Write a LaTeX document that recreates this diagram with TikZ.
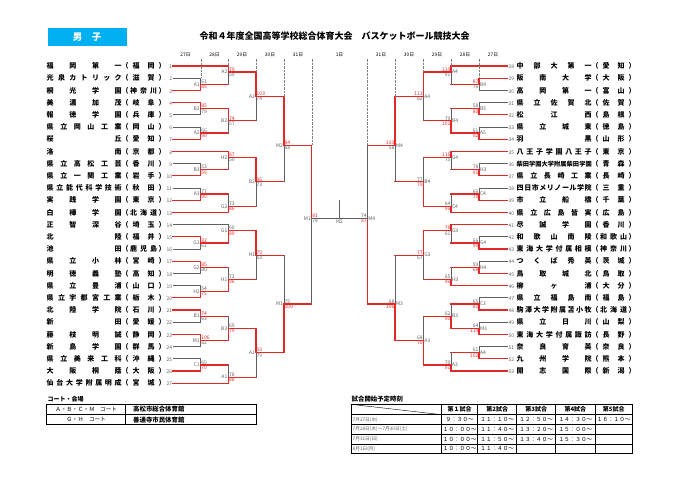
\documentclass[tikz,border=0pt]{standalone}
\usepackage{fontspec}
\newfontfamily\jp{Noto Sans CJK JP}

\definecolor{winred}{RGB}{226,40,40}
\definecolor{losegray}{RGB}{96,96,96}
\definecolor{boxblue}{RGB}{0,176,240}

% spread the characters of a name over its box
\def\spreadtxt#1{\spreadfirst#1\relax}
\def\spreadfirst#1{#1\spreadnext}
\def\spreadnext#1{\ifx\relax#1\else\hskip 0pt plus 1fil\relax#1\expandafter\spreadnext\fi}
\def\headchar#1#2\relax{#1}

\newcommand\nm[1]{\hbox to 75pt{\spreadtxt{#1}}}
\newcommand\pf[1]{（\hbox to 30pt{\hskip 0pt plus .5fil\relax\spreadtxt{#1}\hskip 0pt plus .5fil\relax}）}
\newcommand\nb[1]{\hbox to 7pt{\hfil\mdseries\fontsize{5}{5}\selectfont\color{losegray}#1\hskip.5pt}}
\newcommand\nbr[1]{\hbox to 9pt{\hskip1pt\mdseries\fontsize{5}{5}\selectfont\color{losegray}#1\hfil}}

% line into a game: teams by their result, winners always red
\newcommand\feed[3]{%
  \if t\headchar#1\relax
    \ifnum#3=1 \draw[win] (#1) -- (#1 -| #2);\else \draw[lose] (#1) -- (#1 -| #2);\fi
  \else
    \draw[win] (#1) -- (#1 -| #2);
  \fi}

% #1 name, #2 x, #3 row, #4 upper, #5 lower, #6 winner u/l, #7 court, #8 #9 scores
\newcommand\game[9]{%
  \coordinate (#1) at (#2,#3);
  \if#6u
    \feed{#4}{#1}{1}\feed{#5}{#1}{0}%
    \draw[lose] (#5 -| #1) -- (#1);
    \draw[win] (#4 -| #1) -- (#1);
    \def\cu{winred}\def\cl{losegray}%
  \else
    \feed{#4}{#1}{0}\feed{#5}{#1}{1}%
    \draw[lose] (#4 -| #1) -- (#1);
    \draw[win] (#5 -| #1) -- (#1);
    \def\cu{losegray}\def\cl{winred}%
  \fi
  \ifdim #2pt<340pt
    \node[tag, anchor=east] (#1-c) at (#1) {#7};
    \node[score, text=\cu, anchor=south west] (#1-u) at (#1) {#8};
    \node[score, text=\cl, anchor=north west] (#1-l) at (#1) {#9};
  \else
    \node[tag, anchor=west] (#1-c) at (#1) {#7};
    \node[score, text=\cu, anchor=south east] (#1-u) at (#1) {#8};
    \node[score, text=\cl, anchor=north east] (#1-l) at (#1) {#9};
  \fi}

\tikzset{
  win/.style={draw=winred, line width=1.2pt, line cap=rect},
  lose/.style={draw=losegray, line width=0.7pt, line cap=rect},
  guide/.style={draw=gray, line width=0.4pt, densely dotted},
  team/.style={anchor=west, inner sep=0pt, font=\jp\bfseries\fontsize{7}{7}\selectfont},
  score/.style={inner sep=0.5pt, font=\jp\fontsize{5}{5}\selectfont},
  tag/.style={inner sep=0.8pt, text=losegray, font=\jp\fontsize{5}{5}\selectfont},
  dayhead/.style={inner sep=0pt, font=\jp\fontsize{4.8}{5}\selectfont},
  cell/.style={inner sep=0pt, font=\jp\fontsize{5.6}{6}\selectfont},
  datecell/.style={inner sep=0pt, anchor=west, text=losegray, font=\jp\fontsize{4.7}{5}\selectfont},
  rule/.style={line width=0.6pt},
}

\begin{document}
\begin{tikzpicture}[x=1pt, y=-1pt]
  \useasboundingbox (0,0) rectangle (680,481);

  \node[fill=boxblue, minimum width=79pt, minimum height=18pt, inner sep=0pt, text=white,
        font=\jp\bfseries\fontsize{9.5}{10}\selectfont] (sex) at (87,37) {男　子};
  \node[inner sep=0pt, font=\jp\bfseries\fontsize{9}{9}\selectfont] (title) at (334.5,36)
        {令和４年度全国高等学校総合体育大会　バスケットボール競技大会};

  \begin{scope}[y=-6.1pt, yshift=-66pt]
    % teams, left half
    \node[team] (t1) at (46.5,0) {\nm{福岡第一}\pf{福岡}\nb{1}};
    \node[team] (t2) at (46.5,2) {\nm{光泉カトリック}\pf{滋賀}\nb{2}};
    \node[team] (t3) at (46.5,4) {\nm{桐光学園}\pf{神奈川}\nb{3}};
    \node[team] (t4) at (46.5,6) {\nm{美濃加茂}\pf{岐阜}\nb{4}};
    \node[team] (t5) at (46.5,8) {\nm{報徳学園}\pf{兵庫}\nb{5}};
    \node[team] (t6) at (46.5,10) {\nm{県立岡山工業}\pf{岡山}\nb{6}};
    \node[team] (t7) at (46.5,12) {\nm{桜丘}\pf{愛知}\nb{7}};
    \node[team] (t8) at (46.5,14) {\nm{洛南}\pf{京都}\nb{8}};
    \node[team] (t9) at (46.5,16) {\nm{県立高松工芸}\pf{香川}\nb{9}};
    \node[team] (t10) at (46.5,18) {\nm{県立一関工業}\pf{岩手}\nb{10}};
    \node[team] (t11) at (46.5,20) {\nm{県立能代科学技術}\pf{秋田}\nb{11}};
    \node[team] (t12) at (46.5,22) {\nm{実践学園}\pf{東京}\nb{12}};
    \node[team] (t13) at (46.5,24) {\nm{白樺学園}\pf{北海道}\nb{13}};
    \node[team] (t14) at (46.5,26) {\nm{正智深谷}\pf{埼玉}\nb{14}};
    \node[team] (t15) at (46.5,28) {\nm{北陸}\pf{福井}\nb{15}};
    \node[team] (t16) at (46.5,30) {\nm{池田}\pf{鹿児島}\nb{16}};
    \node[team] (t17) at (46.5,32) {\nm{県立小林}\pf{宮崎}\nb{17}};
    \node[team] (t18) at (46.5,34) {\nm{明徳義塾}\pf{高知}\nb{18}};
    \node[team] (t19) at (46.5,36) {\nm{県立豊浦}\pf{山口}\nb{19}};
    \node[team] (t20) at (46.5,38) {\nm{県立宇都宮工業}\pf{栃木}\nb{20}};
    \node[team] (t21) at (46.5,40) {\nm{北陸学院}\pf{石川}\nb{21}};
    \node[team] (t22) at (46.5,42) {\nm{新田}\pf{愛媛}\nb{22}};
    \node[team] (t23) at (46.5,44) {\nm{藤枝明誠}\pf{静岡}\nb{23}};
    \node[team] (t24) at (46.5,46) {\nm{新島学園}\pf{群馬}\nb{24}};
    \node[team] (t25) at (46.5,48) {\nm{県立美来工科}\pf{沖縄}\nb{25}};
    \node[team] (t26) at (46.5,50) {\nm{大阪桐蔭}\pf{大阪}\nb{26}};
    \node[team] (t27) at (46.5,52) {\nm{仙台大学附属明成}\pf{宮城}\nb{27}};

    % teams, right half
    \node[team] (t28) at (507.5,0) {\nbr{28}\nm{中部大第一}\pf{愛知}};
    \node[team] (t29) at (507.5,2) {\nbr{29}\nm{阪南大学}\pf{大阪}};
    \node[team] (t30) at (507.5,4) {\nbr{30}\nm{高岡第一}\pf{富山}};
    \node[team] (t31) at (507.5,6) {\nbr{31}\nm{県立佐賀北}\pf{佐賀}};
    \node[team] (t32) at (507.5,8) {\nbr{32}\nm{松江西}\pf{島根}};
    \node[team] (t33) at (507.5,10) {\nbr{33}\nm{県立城東}\pf{徳島}};
    \node[team] (t34) at (507.5,12) {\nbr{34}\nm{羽黒}\pf{山形}};
    \node[team] (t35) at (507.5,14) {\nbr{35}\nm{八王子学園八王子}\pf{東京}};
    \node[team] (t36) at (507.5,16) {\nbr{36}{\fontsize{6.2}{7}\selectfont\nm{柴田学園大学附属柴田学園}}\pf{青森}};
    \node[team] (t37) at (507.5,18) {\nbr{37}\nm{県立長崎工業}\pf{長崎}};
    \node[team] (t38) at (507.5,20) {\nbr{38}\nm{四日市メリノール学院}\pf{三重}};
    \node[team] (t39) at (507.5,22) {\nbr{39}\nm{市立船橋}\pf{千葉}};
    \node[team] (t40) at (507.5,24) {\nbr{40}\nm{県立広島皆実}\pf{広島}};
    \node[team] (t41) at (507.5,26) {\nbr{41}\nm{尽誠学園}\pf{香川}};
    \node[team] (t42) at (507.5,28) {\nbr{42}\nm{和歌山南陵}\pf{和歌山}};
    \node[team] (t43) at (507.5,30) {\nbr{43}\nm{東海大学付属相模}\pf{神奈川}};
    \node[team] (t44) at (507.5,32) {\nbr{44}\nm{つくば秀英}\pf{茨城}};
    \node[team] (t45) at (507.5,34) {\nbr{45}\nm{鳥取城北}\pf{鳥取}};
    \node[team] (t46) at (507.5,36) {\nbr{46}\nm{柳ヶ浦}\pf{大分}};
    \node[team] (t47) at (507.5,38) {\nbr{47}\nm{県立福島南}\pf{福島}};
    \node[team] (t48) at (507.5,40) {\nbr{48}\nm{駒澤大学附属苫小牧}\pf{北海道}};
    \node[team] (t49) at (507.5,42) {\nbr{49}\nm{県立日川}\pf{山梨}};
    \node[team] (t50) at (507.5,44) {\nbr{50}\nm{東海大学付属諏訪}\pf{長野}};
    \node[team] (t51) at (507.5,46) {\nbr{51}\nm{奈良育英}\pf{奈良}};
    \node[team] (t52) at (507.5,48) {\nbr{52}\nm{九州学院}\pf{熊本}};
    \node[team] (t53) at (507.5,50) {\nbr{53}\nm{開志国際}\pf{新潟}};

    % left half
    \game{gL1a}{200.7}{3}{t2}{t3}{l}{A1}{61}{85}
    \game{gL1b}{200.7}{7}{t4}{t5}{u}{B2}{85}{79}
    \game{gL1c}{200.7}{11}{t6}{t7}{l}{A2}{66}{90}
    \game{gL1d}{200.7}{17}{t9}{t10}{l}{B3}{53}{59}
    \game{gL1e}{200.7}{21}{t11}{t12}{l}{A3}{77}{90}
    \game{gL1f}{200.7}{29}{t15}{t16}{u}{G1}{82}{61}
    \game{gL1g}{200.7}{33}{t17}{t18}{u}{G2}{85}{80}
    \game{gL1h}{200.7}{37}{t19}{t20}{l}{H2}{54}{75}
    \game{gL1i}{200.7}{41}{t21}{t22}{u}{B1}{74}{63}
    \game{gL1j}{200.7}{45}{t23}{t24}{u}{M1}{106}{82}
    \game{gL1k}{200.7}{49}{t25}{t26}{l}{C1}{69}{70}

    \game{gL2a}{228.3}{1}{t1}{gL1a}{u}{A2}{79}{59}
    \game{gL2b}{228.3}{9}{gL1b}{gL1c}{u}{B2}{74}{57}
    \game{gL2c}{228.3}{15}{t8}{gL1d}{u}{H2}{87}{59}
    \game{gL2d}{228.3}{23}{gL1e}{t13}{l}{G2}{73}{86}
    \game{gL2e}{228.3}{27}{t14}{gL1f}{l}{G1}{60}{89}
    \game{gL2f}{228.3}{35}{gL1g}{gL1h}{l}{H1}{73}{96}
    \game{gL2g}{228.3}{43}{gL1i}{gL1j}{l}{B3}{69}{79}
    \game{gL2h}{228.3}{51}{gL1k}{t27}{l}{A1}{78}{88}

    \game{gL3a}{256}{5}{gL2a}{gL2b}{u}{A3}{103}{74}
    \game{gL3b}{256}{19}{gL2c}{gL2d}{u}{B2}{96}{73}
    \game{gL3c}{256}{31}{gL2e}{gL2f}{u}{H1}{79}{63}
    \game{gL3d}{256}{47}{gL2g}{gL2h}{u}{A1}{93}{79}

    \game{gL4a}{284}{13}{gL3a}{gL3b}{u}{M2}{84}{58}
    \game{gL4b}{284}{39}{gL3c}{gL3d}{l}{M1}{75}{100}

    \game{gL5}{311.7}{25}{gL4a}{gL4b}{u}{M1}{81}{78}

    % right half
    \game{gR1a}{479}{3}{t29}{t30}{u}{B4}{87}{76}
    \game{gR1b}{479}{7}{t31}{t32}{l}{B5}{58}{80}
    \game{gR1c}{479}{11}{t33}{t34}{l}{A5}{61}{92}
    \game{gR1d}{479}{17}{t36}{t37}{l}{H3}{78}{91}
    \game{gR1e}{479}{21}{t38}{t39}{l}{C4}{66}{70}
    \game{gR1f}{479}{29}{t42}{t43}{l}{G4}{66}{90}
    \game{gR1g}{479}{33}{t44}{t45}{l}{H4}{59}{68}
    \game{gR1h}{479}{39}{t47}{t48}{l}{C3}{65}{81}
    \game{gR1i}{479}{43}{t49}{t50}{l}{M3}{64}{119}
    \game{gR1j}{479}{47}{t51}{t52}{l}{A4}{61}{102}

    \game{gR2a}{451}{1}{t28}{gR1a}{u}{A4}{110}{91}
    \game{gR2b}{451}{9}{gR1b}{gR1c}{l}{B4}{79}{101}
    \game{gR2c}{451}{15}{t35}{gR1d}{u}{G4}{116}{75}
    \game{gR2d}{451}{23}{gR1e}{t40}{l}{C4}{64}{96}
    \game{gR2e}{451}{27}{t41}{gR1f}{u}{G3}{78}{61}
    \game{gR2f}{451}{35}{gR1g}{t46}{l}{H3}{65}{96}
    \game{gR2g}{451}{41}{gR1h}{gR1i}{l}{B3}{62}{90}
    \game{gR2h}{451}{49}{gR1j}{t53}{l}{A3}{70}{91}

    \game{gR3a}{423.3}{5}{gR2a}{gR2b}{u}{A4}{111}{82}
    \game{gR3b}{423.3}{19}{gR2c}{gR2d}{l}{B4}{77}{79}
    \game{gR3c}{423.3}{31}{gR2e}{gR2f}{u}{G3}{77}{67}
    \game{gR3d}{423.3}{45}{gR2g}{gR2h}{l}{A3}{68}{70}

    \game{gR4a}{395}{13}{gR3a}{gR3b}{u}{M4}{103}{58}
    \game{gR4b}{395}{39}{gR3c}{gR3d}{l}{M3}{68}{106}

    \game{gR5}{367.3}{25}{gR4a}{gR4b}{l}{M4}{74}{87}

    % final
    \coordinate (gF) at (339.5,25);
    \coordinate (gFt) at (339.5,22);
    \draw[lose] (gL5) -- (gF);
    \draw[lose] (gR5) -- (gF);
    \draw[lose] (gF) -- (gFt);
    \node[tag, anchor=north] (gF-c) at (gF) {M2};

    % days
    \node[dayhead] (dL27) at (185.5,-1.8) {27日};
    \node[dayhead] (dL28) at (214.5,-1.8) {28日};
    \node[dayhead] (dL29) at (242,-1.8) {29日};
    \node[dayhead] (dL30) at (270,-1.8) {30日};
    \node[dayhead] (dL31) at (298,-1.8) {31日};
    \node[dayhead] (d1) at (339.5,-1.8) {1日};
    \node[dayhead] (dR31) at (381,-1.8) {31日};
    \node[dayhead] (dR30) at (409,-1.8) {30日};
    \node[dayhead] (dR29) at (437,-1.8) {29日};
    \node[dayhead] (dR28) at (465,-1.8) {28日};
    \node[dayhead] (dR27) at (493,-1.8) {27日};

    \coordinate (vL1) at (200.7,-1.2);
    \coordinate (vL2) at (228.3,-1.2);
    \coordinate (vL3) at (256,-1.2);
    \coordinate (vL4) at (284,-1.2);
    \coordinate (vL5) at (311.7,-1.2);
    \coordinate (vR1) at (479,-1.2);
    \coordinate (vR2) at (451,-1.2);
    \coordinate (vR3) at (423.3,-1.2);
    \coordinate (vR4) at (395,-1.2);
    \coordinate (vR5) at (367.3,-1.2);
    \draw[guide] (vL1) -- (vL1 |- t2);
    \draw[guide] (vL2) -- (vL2 |- t1);
    \draw[guide] (vL3) -- (vL3 |- gL2a);
    \draw[guide] (vL4) -- (vL4 |- gL3a);
    \draw[guide] (vL5) -- (vL5 |- gL4a);
    \draw[guide] (vR1) -- (vR1 |- t29);
    \draw[guide] (vR2) -- (vR2 |- t28);
    \draw[guide] (vR3) -- (vR3 |- gR2a);
    \draw[guide] (vR4) -- (vR4 |- gR3a);
    \draw[guide] (vR5) -- (vR5 |- gR4a);
  \end{scope}

  % courts
  \node[inner sep=0pt, anchor=west, font=\jp\bfseries\fontsize{6}{6}\selectfont] (courthead) at (47.5,399.5) {コート・会場};
  \draw[line width=0.8pt] (46.7,404.3) rectangle (256,424.7);
  \draw[rule] (46.7,414.7) -- (256,414.7);
  \draw[rule] (125.7,404.3) -- (125.7,424.7);
  \node[cell] (courtA) at (86.2,409.5) {Ａ・Ｂ・Ｃ・Ｍ　コート};
  \node[cell] (courtG) at (86.2,419.7) {Ｇ・Ｈ　コート};
  \node[cell, anchor=west, font=\jp\bfseries\fontsize{6.4}{7}\selectfont] (hallA) at (133,409.5) {高松市総合体育館};
  \node[cell, anchor=west, font=\jp\bfseries\fontsize{6.4}{7}\selectfont] (hallG) at (133,419.7) {善通寺市民体育館};

  % start times
  \node[inner sep=0pt, anchor=west, font=\jp\bfseries\fontsize{6.4}{7}\selectfont] (schedhead) at (351.5,399.5) {試合開始予定時刻};
  \draw[line width=0.8pt] (351,404.3) rectangle (632.3,453.3);
  \draw[rule] (351,414.7) -- (632.3,414.7);
  \draw[rule] (351,424.3) -- (632.3,424.3);
  \draw[rule] (351,434.3) -- (632.3,434.3);
  \draw[rule] (351,444) -- (632.3,444);
  \draw[rule] (441.7,404.3) -- (441.7,453.3);
  \draw[rule] (477.7,404.3) -- (477.7,453.3);
  \draw[rule] (516.7,404.3) -- (516.7,453.3);
  \draw[rule] (555.7,404.3) -- (555.7,453.3);
  \draw[rule] (595,404.3) -- (595,453.3);
  \draw[line width=0.4pt] (351,404.3) -- (441.7,414.7);

  \node[cell, font=\jp\bfseries\fontsize{6}{6}\selectfont] (h1) at (459.7,409.5) {第１試合};
  \node[cell, font=\jp\bfseries\fontsize{6}{6}\selectfont] (h2) at (497.2,409.5) {第2試合};
  \node[cell, font=\jp\bfseries\fontsize{6}{6}\selectfont] (h3) at (536.2,409.5) {第3試合};
  \node[cell, font=\jp\bfseries\fontsize{6}{6}\selectfont] (h4) at (575.4,409.5) {第4試合};
  \node[cell, font=\jp\bfseries\fontsize{6}{6}\selectfont] (h5) at (613.7,409.5) {第5試合};

  \node[datecell] (r1) at (352.5,419.5) {7月27日(水)};
  \node[datecell] (r2) at (352.5,429.3) {7月28日(木)～7月30日(土)};
  \node[datecell] (r3) at (352.5,439.2) {7月31日(日)};
  \node[datecell] (r4) at (352.5,448.7) {8月1日(月)};

  \node[cell] (r1c1) at (459.7,419.5) {９：３０～};
  \node[cell] (r1c2) at (497.2,419.5) {１１：１０～};
  \node[cell] (r1c3) at (536.2,419.5) {１２：５０～};
  \node[cell] (r1c4) at (575.4,419.5) {１４：３０～};
  \node[cell] (r1c5) at (613.7,419.5) {１６：１０～};
  \node[cell] (r2c1) at (459.7,429.3) {１０：００～};
  \node[cell] (r2c2) at (497.2,429.3) {１１：４０～};
  \node[cell] (r2c3) at (536.2,429.3) {１３：２０～};
  \node[cell] (r2c4) at (575.4,429.3) {１５：００～};
  \node[cell] (r3c1) at (459.7,439.2) {１０：００～};
  \node[cell] (r3c2) at (497.2,439.2) {１１：５０～};
  \node[cell] (r3c3) at (536.2,439.2) {１３：４０～};
  \node[cell] (r3c4) at (575.4,439.2) {１５：３０～};
  \node[cell] (r4c1) at (459.7,448.7) {１０：００～};
  \node[cell] (r4c2) at (497.2,448.7) {１１：４０～};
\end{tikzpicture}
\end{document}
